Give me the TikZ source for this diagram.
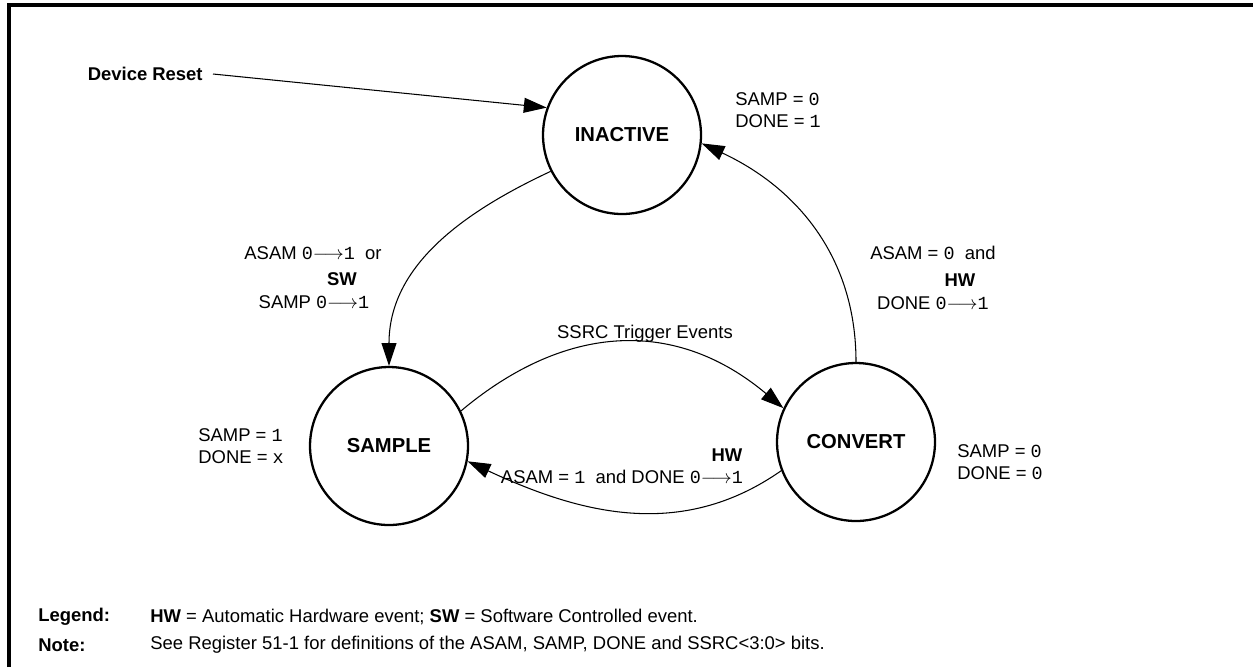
\documentclass[tikz,border=0pt]{standalone}
\usepackage{fontspec}
\setmainfont{Liberation Sans}
\setmonofont{Liberation Mono}
\usetikzlibrary{arrows.meta}

\newcommand{\flip}[2]{\texttt{#1}$\longrightarrow$\texttt{#2}}

\begin{document}
\begin{tikzpicture}[x=0.02cm,y=-0.02cm,
    state/.style={circle, draw, line width=1.3pt, minimum size=3.16cm, inner sep=0pt, font=\fontsize{11.5}{13}\selectfont\bfseries},
    lbl/.style={font=\fontsize{10.5}{12.5}\selectfont, inner sep=0pt, align=left},
    evt/.style={font=\fontsize{10.5}{12.5}\selectfont\bfseries, inner sep=0pt},
    trans/.style={line width=0.6pt, -{Triangle[length=13pt,width=8.5pt]}}]
    \useasboundingbox (0,0) rectangle (1253,667);

    % Frame
    \draw[line width=2pt] (9,667) -- (9,5) -- (1253,5);

    % States
    \node[state] (inactive) at (622,135) {INACTIVE};
    \node[state] (sample) at (389,446) {SAMPLE};
    \node[state] (convert) at (856,442) {CONVERT};

    % Device reset
    \node[evt, anchor=east] (reset) at (203,74) {Device Reset};
    \draw[trans] (reset.east) ++(10,0) coordinate (r0) (r0) -- (inactive.160);

    % Transitions
    \draw[trans] (inactive.207) to[out=205,in=90] (sample.north);
    \draw[trans] (sample.26) to[out=40,in=140,looseness=1.1] (convert.155);
    \draw[trans] (convert.201) to[out=215,in=-25] (sample.-11);
    \draw[trans] (convert.north) to[out=90,in=-25] (inactive.-6);

    % Register values
    \node[lbl, anchor=west] (inbits) at (735,110) {SAMP = \texttt{0}\\DONE = \texttt{1}};
    \node[lbl, anchor=west] (smbits) at (198,446) {SAMP = \texttt{1}\\DONE = \texttt{x}};
    \node[lbl, anchor=west] (cvbits) at (957,462) {SAMP = \texttt{0}\\DONE = \texttt{0}};

    % Transition labels
    \node[lbl] (swa) at (313,253) {ASAM \flip{0}{1}\ \ or};
    \node[evt] (swtag) at (342,279) {SW};
    \node[lbl] (swb) at (314,302) {SAMP \flip{0}{1}};
    \node[lbl] (hwa) at (933,253) {ASAM = \texttt{0}\ \ and};
    \node[evt] (hwtag) at (960,280) {HW};
    \node[lbl] (hwb) at (933,303) {DONE \flip{0}{1}};
    \node[lbl] (trig) at (645,334) {SSRC Trigger Events};
    \node[lbl] (back) at (622,477) {ASAM = \texttt{1}\ \ and DONE \flip{0}{1}};
    \node[evt] (backtag) at (727,455) {HW};

    % Legend
    \node[evt, anchor=west] (legend) at (38,617) {Legend:};
    \node[lbl, anchor=west] (legtext) at (150,617) {\textbf{HW} = Automatic Hardware event; \textbf{SW} = Software Controlled event.};
    \node[evt, anchor=west] (note) at (38,645) {Note:};
    \node[lbl, anchor=west] (notetext) at (150,645) {See Register 51-1 for definitions of the ASAM, SAMP, DONE and SSRC<3:0> bits.};
\end{tikzpicture}
\end{document}
